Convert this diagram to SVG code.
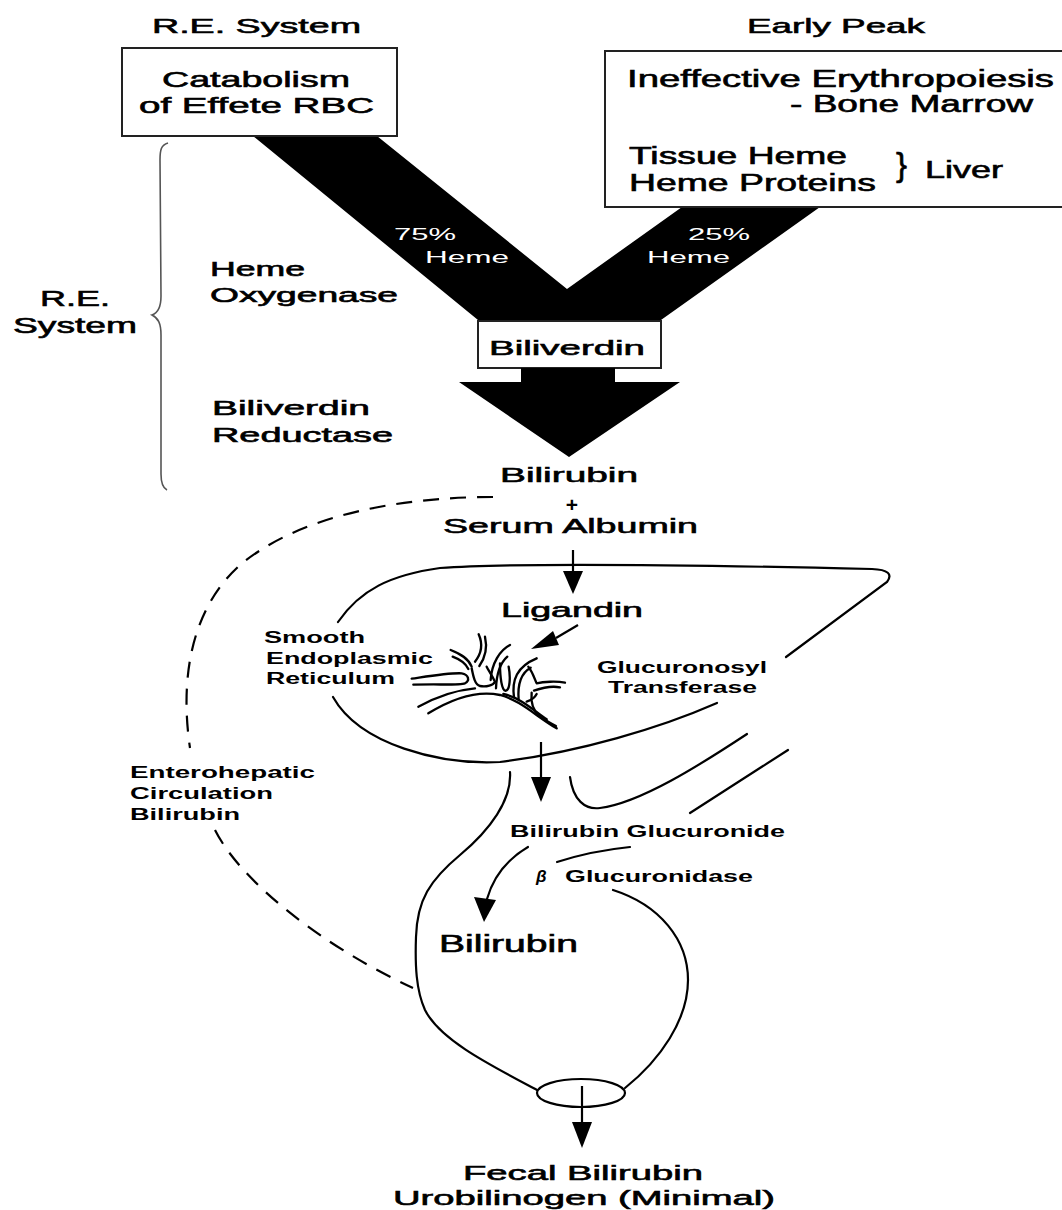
<svg xmlns="http://www.w3.org/2000/svg" width="1062" height="1210" viewBox="0 0 1062 1210">
<style>
text{font-family:"Liberation Sans",Arial,Helvetica,sans-serif;fill:#000}
.L{font-weight:normal;stroke:#000;stroke-width:0.6}
.B{font-weight:bold}
.W{fill:#fff;font-weight:normal}
.ln{fill:none;stroke:#000;stroke-width:2.2;stroke-linecap:round}
.box{fill:#fff;stroke:#222;stroke-width:2}
.dash{fill:none;stroke:#000;stroke-width:2.2;stroke-dasharray:16 11}
.ser{fill:none;stroke:#000;stroke-width:7;stroke-linecap:round;stroke-linejoin:round}
</style>
<rect width="1062" height="1210" fill="#fff"/>

<g id="flow-v">
<polygon points="253,136 377,136 567,289 682,207 820,207 661,320 478,320" fill="#000"/>
<text class="W" x="394" y="240" font-size="17" textLength="62" lengthAdjust="spacingAndGlyphs">75%</text>
<text class="W" x="425" y="263" font-size="17" textLength="84" lengthAdjust="spacingAndGlyphs">Heme</text>
<text class="W" x="688" y="240" font-size="17" textLength="62" lengthAdjust="spacingAndGlyphs">25%</text>
<text class="W" x="647" y="263" font-size="17" textLength="83" lengthAdjust="spacingAndGlyphs">Heme</text>
</g>

<g id="re-system-title">
<text class="L" x="152" y="33" font-size="21" textLength="209" lengthAdjust="spacingAndGlyphs">R.E. System</text>
</g>
<g id="early-peak-title">
<text class="L" x="747" y="33" font-size="21" textLength="178" lengthAdjust="spacingAndGlyphs">Early Peak</text>
</g>

<g id="catabolism">
<rect class="box" x="122" y="48" width="275" height="88"/>
<text class="L" x="162" y="87" font-size="22" textLength="188" lengthAdjust="spacingAndGlyphs">Catabolism</text>
<text class="L" x="139" y="113" font-size="22" textLength="235" lengthAdjust="spacingAndGlyphs">of Effete RBC</text>
</g>

<g id="early-sources">
<path class="box" d="M1075,51 H605 V207 H1075"/>
<text class="L" x="627" y="87" font-size="23" textLength="427" lengthAdjust="spacingAndGlyphs">Ineffective Erythropoiesis</text>
<text class="L" x="790" y="112" font-size="23" textLength="243" lengthAdjust="spacingAndGlyphs">- Bone Marrow</text>
<text class="L" x="629" y="164" font-size="23" textLength="218" lengthAdjust="spacingAndGlyphs">Tissue Heme</text>
<text class="L" x="629" y="191" font-size="23" textLength="247" lengthAdjust="spacingAndGlyphs">Heme Proteins</text>
<text class="L" x="896" y="176" font-size="33">}</text>
<text class="L" x="925" y="178" font-size="23" textLength="78" lengthAdjust="spacingAndGlyphs">Liver</text>
</g>

<g id="re-system-brace">
<path d="M168,143 C161,145 160,150 160,160 L161,296 C161,308 158,313 152,315 C158,318 161,323 161,335 L161,474 C161,484 163,488 167,490" fill="none" stroke="#555" stroke-width="1.6"/>
<text class="L" x="40" y="306" font-size="22" textLength="70" lengthAdjust="spacingAndGlyphs">R.E.</text>
<text class="L" x="13" y="333" font-size="22" textLength="124" lengthAdjust="spacingAndGlyphs">System</text>
</g>

<g id="heme-oxygenase">
<text class="L" x="210" y="276" font-size="20" textLength="95" lengthAdjust="spacingAndGlyphs">Heme</text>
<text class="L" x="210" y="302" font-size="20" textLength="188" lengthAdjust="spacingAndGlyphs">Oxygenase</text>
</g>

<g id="biliverdin">
<rect class="box" x="478" y="321" width="183" height="47"/>
<text class="L" x="489" y="355" font-size="21" textLength="156" lengthAdjust="spacingAndGlyphs">Biliverdin</text>
</g>

<g id="biliverdin-reductase">
<text class="L" x="212" y="415" font-size="20" textLength="158" lengthAdjust="spacingAndGlyphs">Biliverdin</text>
<text class="L" x="212" y="442" font-size="20" textLength="181" lengthAdjust="spacingAndGlyphs">Reductase</text>
</g>

<g id="bilirubin-albumin">
<text class="L" x="500" y="482" font-size="21" textLength="138" lengthAdjust="spacingAndGlyphs">Bilirubin</text>
<text class="B" x="572" y="512" font-size="21" text-anchor="middle">+</text>
<text class="L" x="443" y="533" font-size="21" textLength="255" lengthAdjust="spacingAndGlyphs">Serum Albumin</text>
</g>

<g id="liver">
<path class="ln" d="M338,622 C360,590 390,575 440,568 C520,562 700,565 872,569 Q896,570 887,582 L786,657"/>
<path class="ln" d="M717,703 C660,728 580,752 500,762 C440,765 360,745 333,697"/>
</g>

<g id="ligandin">
<text class="L" x="501" y="617" font-size="20" textLength="142" lengthAdjust="spacingAndGlyphs">Ligandin</text>
</g>

<g id="ser">
<text class="B" x="264" y="643" font-size="16" textLength="101" lengthAdjust="spacingAndGlyphs">Smooth</text>
<text class="B" x="266" y="664" font-size="16" textLength="167" lengthAdjust="spacingAndGlyphs">Endoplasmic</text>
<text class="B" x="266" y="684" font-size="16" textLength="129" lengthAdjust="spacingAndGlyphs">Reticulum</text>
<g transform="translate(400,600) scale(0.3333)">
<path class="ser" d="M35,236 C90,228 150,218 185,220 C207,224 210,242 195,250 C180,256 120,252 40,254"/>
<path class="ser" d="M85,340 C150,300 230,270 300,285 C360,300 410,350 470,385"/>
<path class="ser" d="M55,320 C110,290 170,270 225,265"/>
<path class="ser" d="M310,282 C360,292 400,330 440,358"/>
<path class="ser" d="M152,150 C185,163 205,176 215,200"/>
<path class="ser" d="M158,170 C185,180 198,192 205,207"/>
<path class="ser" d="M236,103 C248,130 245,160 225,185"/>
<path class="ser" d="M255,110 C262,140 256,172 238,198"/>
<path class="ser" d="M215,205 C220,230 225,255 240,258 C260,262 280,255 285,245 C275,225 265,210 260,200"/>
<path class="ser" d="M272,240 C275,190 300,150 330,135"/>
<path class="ser" d="M288,265 C290,215 305,185 322,170"/>
<path class="ser" d="M300,190 C300,230 305,275 318,272 C330,270 332,230 326,200"/>
<path class="ser" d="M342,292 C335,240 350,200 410,175"/>
<path class="ser" d="M356,300 C352,252 365,218 392,203"/>
<path class="ser" d="M385,200 C400,220 405,240 410,250 C430,245 470,243 495,248"/>
<path class="ser" d="M402,272 C430,262 460,258 480,262"/>
<path class="ser" d="M395,278 C392,305 398,330 418,348 C438,362 455,372 468,378"/>
<path class="ser" d="M380,305 C395,300 405,292 410,282"/>
</g>
</g>

<g id="glucuronosyl-transferase">
<text class="B" x="597" y="673" font-size="17" textLength="170" lengthAdjust="spacingAndGlyphs">Glucuronosyl</text>
<text class="B" x="608" y="693" font-size="17" textLength="149" lengthAdjust="spacingAndGlyphs">Transferase</text>
</g>

<g id="enterohepatic">
<text class="B" x="130" y="778" font-size="17" textLength="185" lengthAdjust="spacingAndGlyphs">Enterohepatic</text>
<text class="B" x="130" y="799" font-size="17" textLength="143" lengthAdjust="spacingAndGlyphs">Circulation</text>
<text class="B" x="130" y="820" font-size="17" textLength="110" lengthAdjust="spacingAndGlyphs">Bilirubin</text>
</g>

<g id="intestine">
<path class="ln" d="M510,772 C512,800 490,830 460,855 C430,880 417,900 416,937 C415,965 416,990 425,1010 C440,1040 490,1065 537,1090"/>
<path class="ln" d="M613,890 C660,905 688,940 688,980 C688,1020 660,1060 625,1088"/>
<path class="ln" d="M570,777 C573,800 585,810 600,808 C640,803 700,765 747,734"/>
<path class="ln" d="M788,750 L690,813"/>
<path class="ln" d="M557,862 C585,853 610,849 630,847"/>
<ellipse cx="581" cy="1093" rx="44" ry="14" fill="none" stroke="#000" stroke-width="2.2"/>
</g>

<g id="bilirubin-glucuronide">
<text class="B" x="510" y="837" font-size="16" textLength="275" lengthAdjust="spacingAndGlyphs">Bilirubin Glucuronide</text>
</g>
<g id="b-glucuronidase">
<text class="B" x="536" y="882" font-size="17" font-style="italic">β</text>
<text class="B" x="565" y="882" font-size="16" textLength="188" lengthAdjust="spacingAndGlyphs">Glucuronidase</text>
</g>
<g id="bilirubin-gut">
<text class="L" x="439" y="952" font-size="23" textLength="139" lengthAdjust="spacingAndGlyphs">Bilirubin</text>
</g>
<g id="fecal">
<text class="L" x="463" y="1180" font-size="21" textLength="240" lengthAdjust="spacingAndGlyphs">Fecal Bilirubin</text>
<text class="L" x="393" y="1205" font-size="21" textLength="382" lengthAdjust="spacingAndGlyphs">Urobilinogen (Minimal)</text>
</g>

<g id="connectors">
<polygon points="521,368 615,368 615,382 680,382 569,457 459,382 521,382" fill="#000"/>
<path class="dash" d="M493,497 C400,497 300,515 240,565 C190,610 180,680 190,748"/>
<path class="dash" d="M215,830 C240,880 320,945 413,988"/>
<line x1="573" y1="550" x2="573" y2="575" stroke="#000" stroke-width="2.2"/>
<polygon points="563,571 583,571 573,594" fill="#000"/>
<line x1="578" y1="625" x2="556" y2="638" stroke="#000" stroke-width="2.2"/>
<polygon points="559,645 553,631 531,649" fill="#000"/>
<line x1="541" y1="742" x2="541" y2="780" stroke="#000" stroke-width="2.2"/>
<polygon points="531,777 551,777 541,802" fill="#000"/>
<path class="ln" d="M528,847 C506,860 493,878 487,899"/>
<polygon points="474,897 496,900 484,922" fill="#000"/>
<line x1="582" y1="1086" x2="582" y2="1125" stroke="#000" stroke-width="2.2"/>
<polygon points="572,1122 592,1122 582,1148" fill="#000"/>
</g>
</svg>
